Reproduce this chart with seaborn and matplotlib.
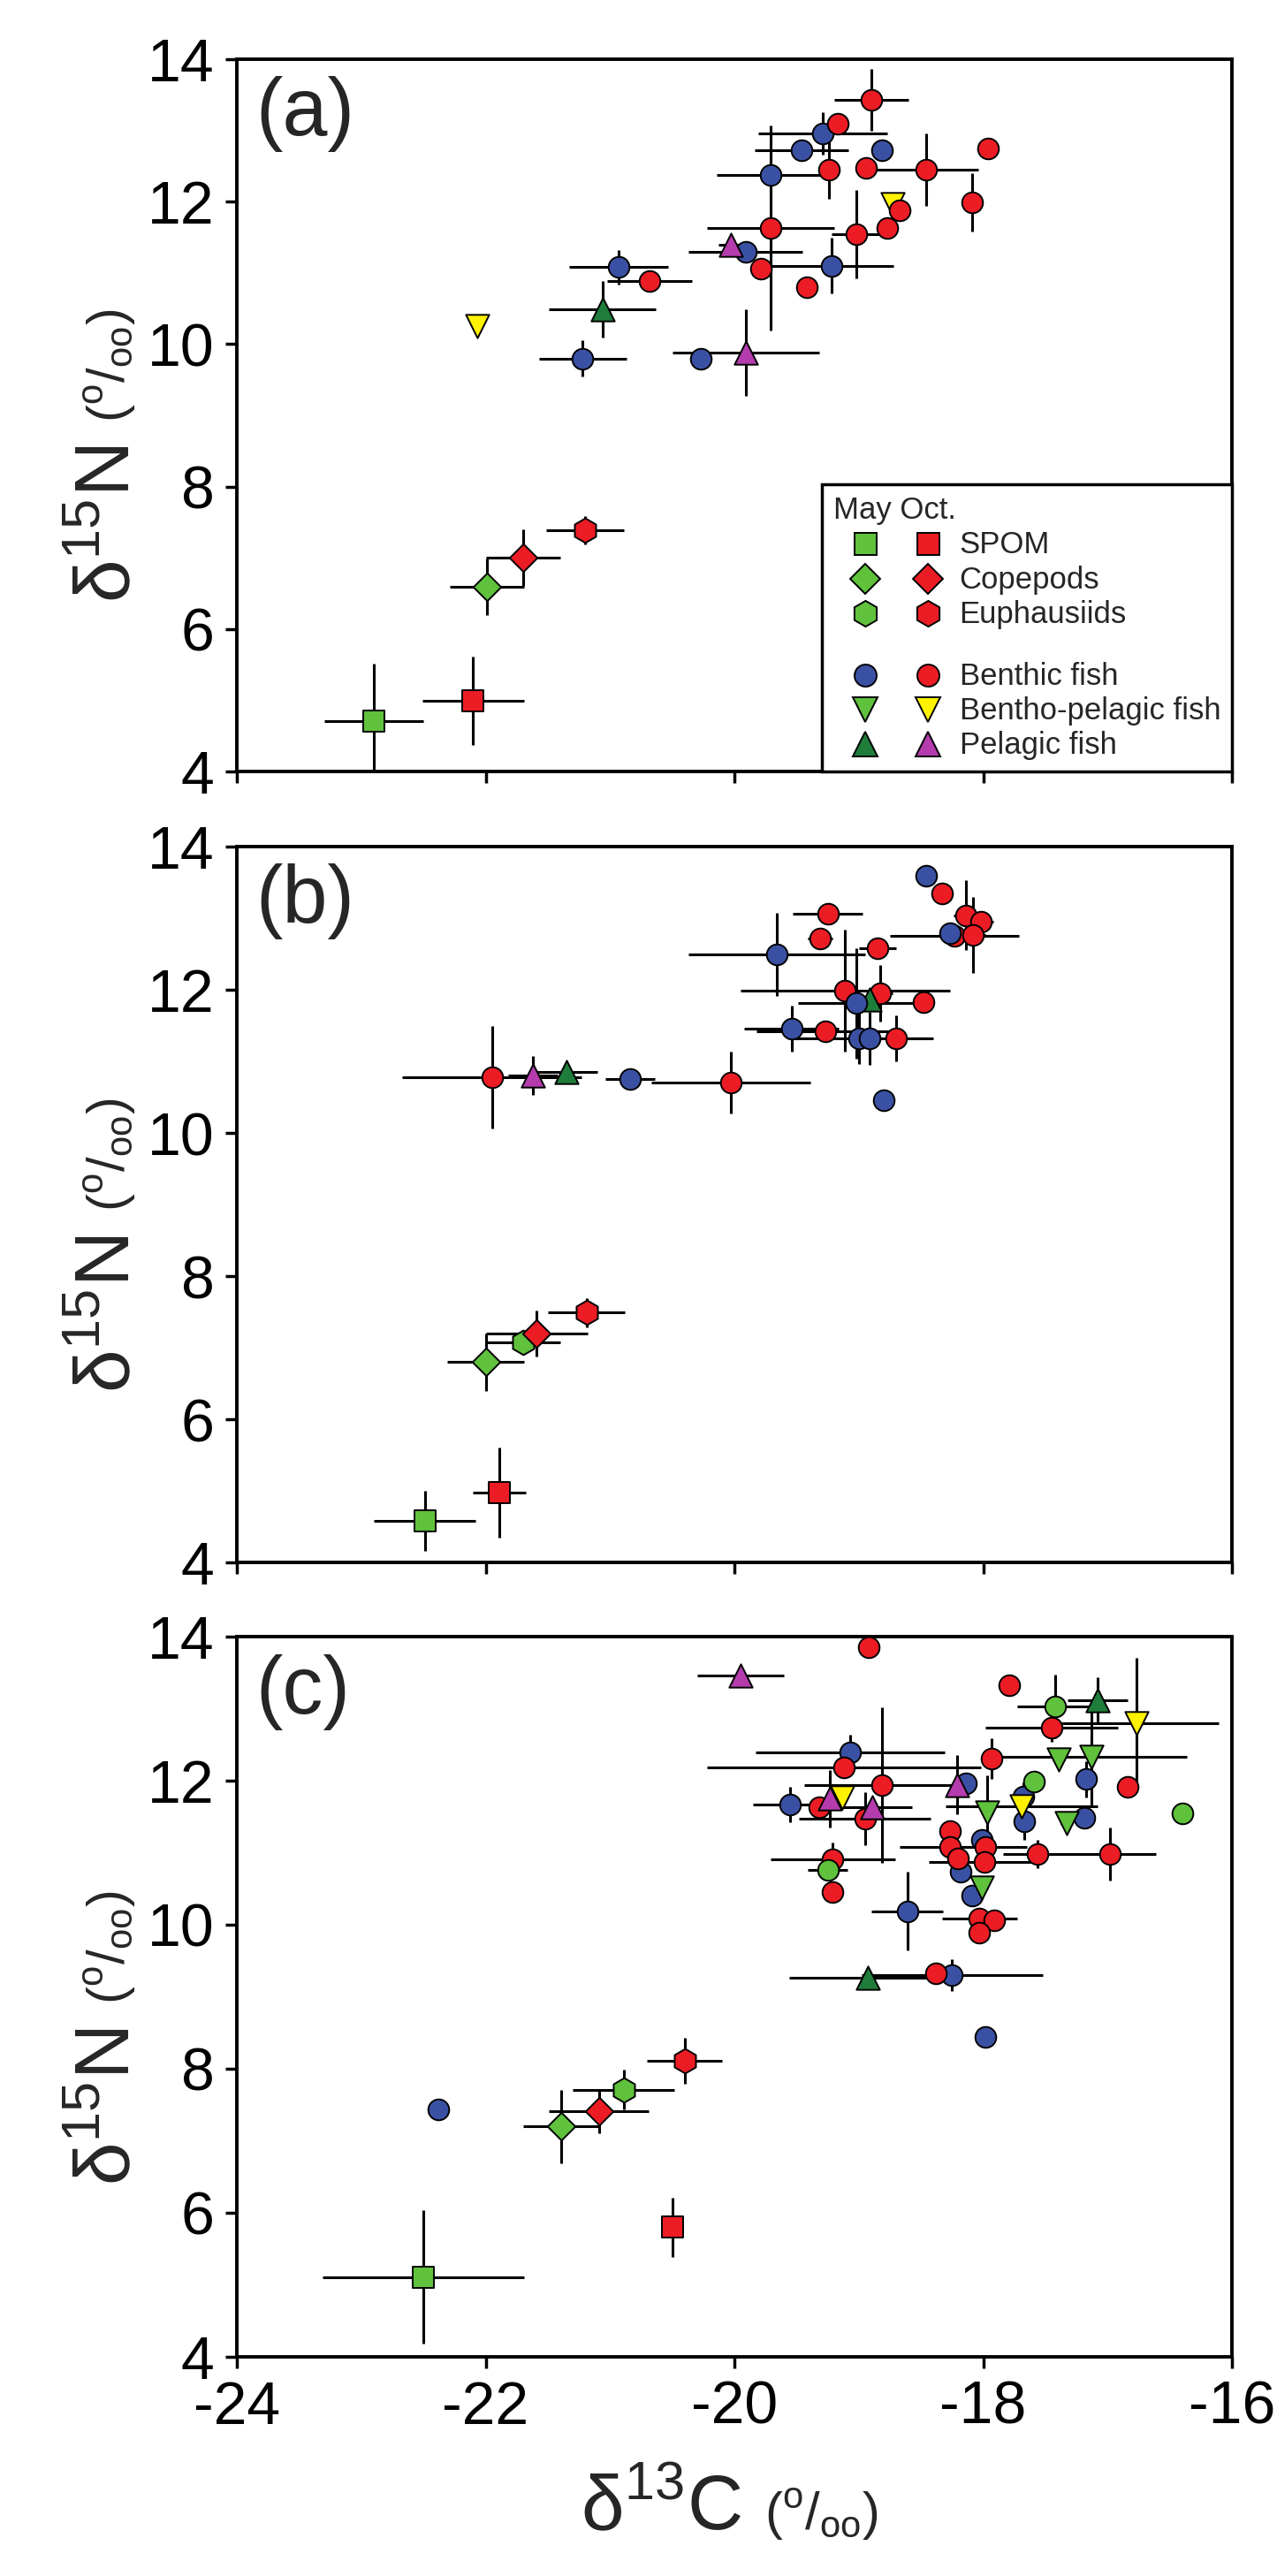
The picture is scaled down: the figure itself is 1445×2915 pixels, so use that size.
import pandas as pd
import seaborn as sns
import matplotlib.pyplot as plt
from matplotlib.lines import Line2D
from matplotlib.legend_handler import HandlerTuple

# group codes: SP = SPOM, CO = copepods, EU = euphausiids, BF = benthic fish,
# BP = bentho-pelagic fish, PF = pelagic fish, GF = green circles (fish)
# suffix -M = May, -O = Oct.

# ---- panel (a)
a_group = ['SP-M', 'SP-O', 'CO-M', 'CO-O', 'EU-O', 'BP-O', 'PF-M', 'BF-M', 'BF-M', 'BF-O',
           'BF-M', 'PF-O', 'BF-M', 'PF-O', 'BF-O', 'BF-O', 'BF-M', 'BF-M', 'BF-M', 'BF-O',
           'BF-O', 'BF-O', 'BF-M', 'BF-O', 'BF-O', 'BF-O', 'BF-O', 'BP-O', 'BF-O', 'BF-O',
           'BF-O', 'BF-M', 'BF-O']
a_x = [-22.90, -22.10, -21.99, -21.70, -21.20, -22.07, -21.06, -21.22, -20.93, -20.68,
       -20.27, -19.91, -19.91, -20.03, -19.79, -19.71, -19.71, -19.46, -19.29, -19.17,
       -19.24, -18.90, -18.81, -18.94, -18.46, -17.96, -18.09, -18.73, -18.67, -18.77,
       -19.02, -19.22, -19.42]
a_y = [4.71, 4.99, 6.59, 7.00, 7.39, 10.25, 10.49, 9.80, 11.08, 10.89,
       9.80, 9.88, 11.30, 11.40, 11.06, 11.63, 12.37, 12.72, 12.96, 13.09,
       12.45, 13.43, 12.72, 12.47, 12.45, 12.75, 11.99, 11.96, 11.88, 11.63,
       11.54, 11.10, 10.80]
a_xerr = [0.40, 0.41, 0.30, 0.30, 0.31, 0.0, 0.43, 0.35, 0.40, 0.34,
          0.0, 0.59, 0.46, 0.10, 0.0, 0.51, 0.43, 0.38, 0.52, 0.05,
          0.05, 0.30, 0.0, 0.0, 0.42, 0.0, 0.0, 0.0, 0.0, 0.0,
          0.20, 0.50, 0.0]
a_yerr = [0.80, 0.62, 0.40, 0.40, 0.20, 0.0, 0.40, 0.25, 0.24, 0.08,
          0.0, 0.61, 0.10, 0.10, 0.0, 1.44, 0.30, 0.10, 0.30, 0.05,
          0.41, 0.43, 0.0, 0.0, 0.51, 0.0, 0.41, 0.0, 0.0, 0.0,
          0.62, 0.39, 0.0]

# ---- panel (b)
b_group = ['SP-M', 'SP-O', 'CO-M', 'EU-M', 'CO-O', 'EU-O', 'BF-O', 'PF-O', 'PF-M', 'BF-M',
           'BF-O', 'BF-M', 'BF-M', 'BF-O', 'BF-O', 'BF-O', 'BF-M', 'BF-O', 'BF-O', 'BF-O',
           'BF-M', 'BF-O', 'BF-O', 'BF-O', 'PF-M', 'BF-M', 'BF-O', 'BF-O', 'BF-M', 'BF-O',
           'BF-M', 'BF-M', 'BF-O']
b_x = [-22.49, -21.89, -22.00, -21.70, -21.59, -21.19, -21.95, -21.62, -21.35, -20.84,
       -20.03, -18.80, -19.66, -19.25, -19.31, -18.85, -18.46, -18.33, -18.14, -18.02,
       -18.27, -18.23, -18.08, -19.11, -18.91, -19.02, -18.83, -18.48, -19.54, -19.27,
       -19.00, -18.91, -18.70]
b_y = [4.58, 4.98, 6.80, 7.07, 7.20, 7.49, 10.78, 10.80, 10.85, 10.75,
       10.70, 10.46, 12.49, 13.06, 12.72, 12.58, 13.59, 13.35, 13.04, 12.95,
       12.79, 12.75, 12.77, 11.99, 11.86, 11.81, 11.95, 11.83, 11.46, 11.42,
       11.32, 11.32, 11.32]
b_xerr = [0.41, 0.21, 0.31, 0.30, 0.41, 0.31, 0.72, 0.20, 0.25, 0.20,
          0.64, 0.0, 0.71, 0.28, 0.10, 0.15, 0.0, 0.0, 0.10, 0.10,
          0.0, 0.52, 0.10, 0.84, 0.10, 0.47, 0.10, 0.0, 0.38, 0.55,
          0.56, 0.10, 0.30]
b_yerr = [0.42, 0.63, 0.40, 0.10, 0.32, 0.20, 0.72, 0.27, 0.10, 0.05,
          0.43, 0.0, 0.58, 0.10, 0.10, 0.05, 0.0, 0.0, 0.49, 0.10,
          0.0, 0.10, 0.53, 0.85, 0.10, 0.77, 0.40, 0.0, 0.32, 0.10,
          0.36, 0.37, 0.32]

# ---- panel (c)
c_group = ['SP-M', 'SP-O', 'BF-M', 'CO-M', 'CO-O', 'EU-M', 'EU-O', 'BF-M', 'PF-M', 'BF-O',
           'BF-M', 'BF-M', 'BF-O', 'BF-O', 'BF-O', 'BF-M', 'BP-M', 'BF-M', 'BF-O', 'BF-O',
           'BF-O', 'BF-M', 'BF-O', 'BF-O', 'BF-O', 'GF-M', 'BF-O', 'BF-O', 'BF-O', 'BP-M',
           'BF-M', 'BF-M', 'BP-M', 'BF-M', 'BP-O', 'GF-M', 'GF-M', 'BF-O', 'BF-M', 'BP-M',
           'BP-M', 'BF-O', 'BF-M', 'PF-O', 'BF-O', 'BF-O', 'BF-M', 'BF-M', 'BF-O', 'PF-O',
           'BP-O', 'PF-O', 'BF-O', 'BF-O', 'BP-O', 'PF-M', 'GF-M', 'BF-O', 'BF-O', 'PF-O']
c_x = [-22.50, -20.50, -22.38, -21.39, -21.09, -20.89, -20.40, -17.98, -18.93, -18.38,
       -18.25, -18.61, -18.03, -17.91, -18.03, -18.09, -18.01, -18.18, -18.27, -18.27,
       -18.20, -18.01, -17.98, -17.99, -19.21, -19.25, -19.21, -17.56, -16.98, -17.97,
       -17.67, -17.19, -17.33, -17.68, -17.69, -17.59, -16.40, -16.84, -17.17, -17.39,
       -17.13, -17.93, -18.14, -18.21, -18.81, -19.12, -19.07, -19.55, -19.32, -19.23,
       -19.13, -18.89, -18.95, -17.45, -16.77, -17.08, -17.42, -17.79, -18.92, -19.95]
c_y = [5.11, 5.80, 7.43, 7.20, 7.41, 7.71, 8.11, 8.44, 9.26, 9.32,
       9.30, 10.19, 10.08, 10.06, 9.89, 10.40, 10.52, 10.73, 11.30, 11.08,
       10.92, 11.18, 11.08, 10.87, 10.91, 10.76, 10.45, 10.98, 10.98, 11.56,
       11.43, 11.49, 11.41, 11.78, 11.65, 11.99, 11.54, 11.91, 12.02, 12.29,
       12.33, 12.31, 11.96, 11.94, 11.94, 12.18, 12.39, 11.67, 11.63, 11.75,
       11.77, 11.63, 11.47, 12.74, 12.80, 13.12, 13.03, 13.33, 13.85, 13.46]
c_xerr = [0.81, 0.03, 0.0, 0.31, 0.40, 0.41, 0.30, 0.0, 0.63, 0.05,
          0.73, 0.29, 0.30, 0.05, 0.05, 0.0, 0.05, 0.0, 0.0, 0.40,
          0.0, 0.0, 0.33, 0.45, 0.50, 0.16, 0.0, 0.28, 0.37, 0.05,
          0.05, 0.05, 0.05, 0.05, 0.61, 0.05, 0.0, 0.0, 0.05, 0.05,
          0.77, 0.05, 0.0, 0.05, 0.63, 1.10, 0.76, 0.30, 0.05, 0.05,
          0.05, 0.32, 0.53, 0.53, 0.66, 0.24, 0.31, 0.0, 0.0, 0.35]
c_yerr = [0.93, 0.41, 0.0, 0.51, 0.30, 0.28, 0.32, 0.0, 0.08, 0.08,
          0.22, 0.54, 0.05, 0.05, 0.05, 0.0, 0.10, 0.0, 0.0, 0.0,
          0.0, 0.0, 0.05, 0.05, 0.23, 0.05, 0.0, 0.20, 0.37, 0.51,
          0.25, 0.05, 0.05, 0.20, 0.10, 0.15, 0.0, 0.0, 0.25, 0.05,
          0.70, 0.28, 0.0, 0.41, 1.08, 0.05, 0.25, 0.25, 0.05, 0.40,
          0.05, 0.05, 0.37, 0.20, 0.90, 0.32, 0.44, 0.0, 0.0, 0.08]

# legend rows
legend_labels = ['SPOM', 'Copepods', 'Euphausiids', ' ',
                 'Benthic fish', 'Bentho-pelagic fish', 'Pelagic fish']
legend_codes = ['SP', 'CO', 'EU', None, 'BF', 'BP', 'PF']

GREEN = '#5fc13c'
RED = '#ec1c24'
BLUE = '#3a51a3'
YELLOW = '#fff200'
DKGREEN = '#1f7d3b'
MAGENTA = '#b43cad'

# code -> (marker, colour, size in points)
STYLE = {
    'SP-M': ('s', GREEN, 17), 'SP-O': ('s', RED, 17),
    'CO-M': ('D', GREEN, 16), 'CO-O': ('D', RED, 16),
    'EU-M': ('h', GREEN, 20), 'EU-O': ('h', RED, 20),
    'BF-M': ('o', BLUE, 17), 'BF-O': ('o', RED, 17),
    'BP-M': ('v', GREEN, 19), 'BP-O': ('v', YELLOW, 19),
    'PF-M': ('^', DKGREEN, 19), 'PF-O': ('^', MAGENTA, 19),
    'GF-M': ('o', GREEN, 17),
}

sns.set_style('ticks')
plt.rcParams['font.family'] = ['Liberation Sans', 'DejaVu Sans']
plt.rcParams['axes.unicode_minus'] = False

fig = plt.figure(figsize=(14.45, 29.15), dpi=100)
rects = [[0.18547, 0.70051, 0.77924, 0.27650],
         [0.18547, 0.39348, 0.77924, 0.27787],
         [0.18547, 0.08508, 0.77924, 0.27959]]
axes = [fig.add_axes(r) for r in rects]

panels = [
    pd.DataFrame(dict(group=a_group, x=a_x, y=a_y, xerr=a_xerr, yerr=a_yerr)),
    pd.DataFrame(dict(group=b_group, x=b_x, y=b_y, xerr=b_xerr, yerr=b_yerr)),
    pd.DataFrame(dict(group=c_group, x=c_x, y=c_y, xerr=c_xerr, yerr=c_yerr)),
]

ylab = 'δ$^{\\mathregular{15}}$N'
xlab = 'δ$^{\\mathregular{13}}$C'
unit = '($^{\\mathregular{o}}$/$_{\\mathregular{oo}}$)'

for ax, df, tag in zip(axes, panels, 'abc'):
    ax.errorbar(df['x'], df['y'], xerr=df['xerr'], yerr=df['yerr'], fmt='none',
                ecolor='black', elinewidth=2.2, capsize=0, zorder=2)
    for g, sub in df.groupby('group', sort=False):
        m, col, ms = STYLE[g]
        sns.scatterplot(data=sub, x='x', y='y', marker=m, color=col, s=ms ** 2,
                        edgecolor='black', linewidth=1.4, ax=ax, zorder=3, legend=False)

    ax.set_xlim(-24, -16)
    ax.set_ylim(4, 14)
    ax.set_xticks(range(-24, -15, 2))
    ax.set_yticks(range(4, 15, 2))
    for sp in ax.spines.values():
        sp.set_linewidth(2.8)
        sp.set_color('black')
    ax.tick_params(direction='out', length=9.4, width=2.5, pad=9, labelsize=49,
                   colors='black', top=False, right=False)
    if tag != 'c':
        ax.tick_params(axis='x', labelbottom=False)
        ax.set_xlabel('')
    else:
        ax.set_xlabel(xlab, fontsize=63)
        ax.xaxis.label.set_verticalalignment('baseline')
        ax.xaxis.set_label_coords(0.426, -0.2393)
        ax.text(0.5306, -0.2393, unit, transform=ax.transAxes, ha='left',
                va='baseline', fontsize=43)

    ax.set_ylabel(ylab, fontsize=63)
    ax.yaxis.set_label_coords(-0.092, 0.347)
    ax.text(-0.0995, 0.49, unit, transform=ax.transAxes, ha='right', va='bottom',
            fontsize=43, rotation=90)

    ax.text(0.019, 0.976, f'({tag})', transform=ax.transAxes, ha='left', va='top',
            fontsize=66)

# legend in panel (a): May and Oct. markers side by side
handles = []
for code in legend_codes:
    if code is None:
        handles.append(Line2D([], [], linestyle='none'))
        continue
    pair = []
    for month in ('M', 'O'):
        m, col, ms = STYLE[f'{code}-{month}']
        pair.append(Line2D([], [], linestyle='none', marker=m, markerfacecolor=col,
                           markeredgecolor='black', markeredgewidth=1.4,
                           markersize=ms + 1))
    handles.append(tuple(pair))

leg = axes[0].legend(handles, legend_labels,
                     handler_map={tuple: HandlerTuple(ndivide=None, pad=0)},
                     loc='lower right', bbox_to_anchor=(1, 0), borderaxespad=0,
                     title='May Oct.', alignment='left', fontsize=25, title_fontsize=25,
                     frameon=True, fancybox=False, framealpha=1, edgecolor='black',
                     handlelength=4.1, handleheight=0.5, handletextpad=0.0,
                     labelspacing=0.18, borderpad=0.37)
leg.get_frame().set_linewidth(2.5)
leg.get_texts()[3].set_fontsize(8)

fig.savefig('out.png', dpi=100)
